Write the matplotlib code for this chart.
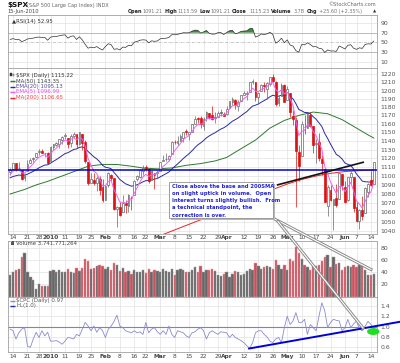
import numpy as np
import matplotlib
matplotlib.use("Agg")
import matplotlib.pyplot as plt
from matplotlib.patches import Ellipse, Rectangle
from matplotlib.ticker import NullLocator, FixedLocator, FixedFormatter
import matplotlib.patheffects as pe

# ------------------------------------------------------------------ data
# trading days 11-Dec-2009 .. 15-Jun-2010 (index -1 .. 125, 0 = 14-Dec-2009)
prev_close = 1102.35
opens = [1103.96, 1107.84, 1114.11, 1108.61, 1106.36, 1097.86, 1105.31, 1114.51, 1118.84, 1121.08, 1127.53, 1128.55, 1125.53, 1126.60,
         1116.56, 1132.66, 1135.71, 1136.27, 1140.52, 1145.96, 1143.81, 1137.31, 1145.68, 1147.72, 1136.03, 1147.95, 1138.68, 1115.49, 1092.40, 1095.80, 1091.94, 1096.93, 1087.61,
         1073.89, 1090.05, 1100.67, 1097.25, 1064.12, 1065.51, 1060.06, 1069.68, 1067.10, 1075.95, 1079.13, 1096.14, 1099.03, 1105.49, 1110.00, 1107.49, 1095.89, 1101.24, 1103.10,
         1105.36, 1117.01, 1119.36, 1119.12, 1125.12, 1138.40, 1137.56, 1140.22, 1143.96, 1151.71, 1148.53, 1150.83, 1159.94, 1166.13, 1166.68, 1157.25, 1166.47, 1172.70, 1170.03, 1167.58, 1167.71, 1173.75, 1171.75,
         1171.23, 1178.71, 1186.01, 1188.23, 1181.75, 1187.47, 1194.94, 1195.94, 1198.69, 1210.77, 1210.17, 1192.06, 1199.04, 1207.16, 1202.52, 1207.87, 1217.07, 1209.92, 1184.59, 1193.30, 1206.77,
         1188.58, 1197.50, 1169.24, 1164.38, 1127.04, 1122.27, 1156.39, 1155.43, 1170.04, 1157.19, 1136.52, 1138.78, 1119.57, 1107.34, 1067.26, 1084.78, 1067.42, 1075.51, 1074.27, 1102.59,
         1087.30, 1073.02, 1098.82, 1098.43, 1065.84, 1050.81, 1062.75, 1058.77, 1082.65, 1095.00, 1091.21]
highs = [1108.50, 1114.76, 1114.11, 1116.21, 1106.36, 1103.74, 1117.68, 1120.27, 1121.58, 1126.48, 1130.38, 1130.38, 1126.42, 1127.64,
         1133.87, 1136.63, 1139.19, 1142.46, 1145.39, 1149.74, 1143.81, 1148.40, 1150.41, 1147.77, 1150.45, 1147.95, 1141.58, 1115.49, 1102.97, 1103.69, 1099.51, 1100.22, 1096.45,
         1089.38, 1104.73, 1102.72, 1097.25, 1067.13, 1071.20, 1079.28, 1073.67, 1080.04, 1077.81, 1095.67, 1101.03, 1108.24, 1112.42, 1112.29, 1108.58, 1106.42, 1103.50, 1107.24,
         1116.11, 1123.46, 1125.64, 1123.73, 1139.38, 1141.05, 1145.37, 1148.26, 1150.24, 1153.41, 1150.98, 1160.28, 1169.84, 1167.77, 1169.20, 1167.82, 1174.72, 1173.04, 1180.69, 1173.93, 1174.85, 1177.83, 1174.56,
         1181.43, 1187.73, 1191.80, 1189.60, 1188.55, 1194.66, 1199.20, 1199.04, 1210.65, 1213.92, 1210.17, 1197.87, 1208.58, 1210.99, 1210.27, 1217.28, 1219.80, 1211.38, 1195.05, 1209.36, 1207.99,
         1205.13, 1197.50, 1175.95, 1167.58, 1135.13, 1163.85, 1170.48, 1172.87, 1173.57, 1157.19, 1141.88, 1148.66, 1124.27, 1107.34, 1090.16, 1089.95, 1074.75, 1090.75, 1103.52, 1102.59,
         1094.77, 1098.56, 1105.67, 1098.43, 1071.36, 1063.15, 1077.74, 1087.85, 1092.25, 1105.87, 1115.59]
lows = [1101.34, 1107.84, 1105.35, 1107.96, 1095.88, 1093.88, 1105.31, 1114.51, 1116.00, 1121.08, 1123.51, 1126.08, 1121.94, 1114.81,
        1116.56, 1129.66, 1133.95, 1131.32, 1136.22, 1142.02, 1131.77, 1133.18, 1143.80, 1131.39, 1135.77, 1129.25, 1114.84, 1090.18, 1092.40, 1089.86, 1083.11, 1078.46, 1071.59,
        1073.89, 1087.96, 1093.97, 1062.78, 1044.50, 1056.51, 1060.06, 1059.34, 1060.59, 1062.97, 1079.13, 1094.72, 1097.48, 1100.80, 1105.38, 1092.18, 1095.50, 1086.02, 1097.56,
        1105.36, 1116.51, 1116.58, 1116.66, 1125.12, 1136.77, 1134.90, 1140.09, 1138.99, 1146.97, 1141.45, 1150.35, 1159.94, 1161.16, 1155.33, 1152.88, 1163.83, 1166.01, 1165.09, 1161.48, 1167.71, 1168.92, 1169.15,
        1170.69, 1178.71, 1182.77, 1177.25, 1175.12, 1187.15, 1194.71, 1188.82, 1198.69, 1208.50, 1186.77, 1183.68, 1199.04, 1198.85, 1190.19, 1205.10, 1211.07, 1181.62, 1181.81, 1193.30, 1186.32,
        1188.58, 1168.12, 1158.15, 1065.79, 1094.15, 1122.27, 1147.71, 1155.43, 1156.14, 1126.14, 1114.96, 1117.20, 1100.66, 1071.58, 1055.90, 1072.70, 1040.78, 1065.59, 1074.27, 1084.78,
        1069.89, 1072.03, 1091.81, 1060.50, 1049.86, 1042.17, 1052.25, 1058.77, 1077.12, 1089.03, 1091.21]
closes = [1106.41, 1114.11, 1107.93, 1109.18, 1096.08, 1102.47, 1114.05, 1118.02, 1120.59, 1126.48, 1127.78, 1126.20, 1126.42, 1115.10,
          1132.99, 1136.52, 1137.14, 1141.69, 1144.98, 1146.98, 1136.22, 1145.68, 1148.46, 1136.03, 1150.23, 1138.04, 1116.48, 1091.76, 1096.78, 1092.17, 1097.50, 1084.53, 1073.87,
          1089.19, 1103.32, 1097.28, 1063.11, 1066.19, 1056.74, 1070.52, 1068.13, 1078.47, 1075.51, 1094.87, 1099.51, 1106.75, 1109.17, 1108.01, 1094.60, 1105.24, 1102.94, 1104.49,
          1115.71, 1118.31, 1118.79, 1122.97, 1138.70, 1138.50, 1140.45, 1145.61, 1150.24, 1149.99, 1150.51, 1159.46, 1166.21, 1165.83, 1159.90, 1165.81, 1174.17, 1167.72, 1165.73, 1166.59, 1173.22, 1173.27, 1169.43,
          1178.10, 1187.44, 1189.44, 1182.45, 1186.44, 1194.37, 1196.48, 1197.30, 1210.65, 1211.67, 1192.13, 1197.52, 1207.17, 1205.94, 1208.67, 1217.28, 1212.05, 1183.71, 1191.36, 1206.78, 1186.69,
          1202.26, 1173.60, 1165.90, 1128.15, 1110.88, 1159.73, 1155.79, 1171.67, 1157.44, 1135.68, 1136.94, 1120.80, 1115.05, 1071.59, 1087.69, 1073.65, 1074.03, 1067.95, 1103.06, 1089.41,
          1070.71, 1098.38, 1102.83, 1064.88, 1050.47, 1062.00, 1055.69, 1086.84, 1091.60, 1089.63, 1115.23]
volumes = [36, 40, 44, 46, 65, 72, 40, 33, 28, 12, 20, 18, 18, 18,
           42, 43, 40, 44, 40, 40, 45, 40, 39, 47, 42, 47, 62, 58, 45, 47, 50, 52, 50,
           46, 48, 44, 55, 52, 42, 47, 40, 42, 38, 44, 40, 41, 44, 39, 45, 40, 44, 42,
           40, 45, 42, 40, 46, 36, 44, 46, 43, 40, 40, 44, 48, 40, 50, 40, 44, 43, 46, 42, 36, 34, 38,
           40, 32, 38, 42, 40, 36, 38, 42, 46, 44, 56, 50, 46, 48, 50, 48, 46, 60, 52, 46, 52,
           44, 62, 58, 82, 72, 62, 52, 48, 44, 52, 50, 52, 58, 66, 68, 48, 66, 54, 56, 44,
           48, 50, 48, 52, 48, 52, 53, 44, 36, 35, 37.4]   # hundreds of millions
cpc = [0.95, 0.92, 0.76, 0.88, 0.95, 0.98, 0.62, 0.60, 0.76, 0.89, 0.79, 0.92, 0.82, 0.89,
       0.72, 0.72, 0.73, 0.70, 0.66, 0.72, 0.79, 0.78, 0.76, 0.85, 0.82, 0.95, 1.08, 1.01, 0.92, 1.01, 0.89, 0.98, 0.92,
       0.79, 0.95, 1.01, 1.10, 1.22, 1.01, 0.98, 0.92, 0.90, 0.88, 0.92, 0.88, 0.90, 0.85, 1.08, 0.88, 0.95, 0.98, 0.90,
       0.85, 0.92, 0.85, 1.01, 0.85, 0.79, 0.92, 0.90, 0.88, 0.82, 0.79, 0.88, 0.90, 0.95, 0.98, 0.92, 0.76, 0.88, 0.92, 0.88, 0.85, 0.90, 0.89,
       0.88, 0.79, 0.85, 0.79, 0.76, 0.73, 0.69, 0.63, 0.58, 0.69, 0.88, 0.92, 0.92, 0.85, 0.80, 0.72, 0.69, 0.76, 0.79, 0.69, 0.98,
       1.20, 1.04, 1.11, 1.27, 1.08, 1.08, 1.14, 0.85, 1.04, 0.98, 0.92, 1.20, 1.46, 1.30, 0.98, 1.08, 1.14, 1.12, 1.11, 0.92,
       0.98, 1.14, 0.98, 1.05, 1.11, 0.96, 0.92, 1.01, 1.10, 1.04, 0.97]
ma50_idx = [-1, 4, 8, 12, 17, 22, 26, 31, 36, 41, 45, 50, 55, 60, 65, 70, 74, 79, 84, 89, 94, 99, 104, 109, 114, 118, 123, 125]
ma50_val = [1080, 1085, 1090, 1094, 1100, 1106, 1111, 1113, 1113, 1111, 1109, 1108, 1109, 1112, 1114, 1117, 1121, 1131, 1141,
            1155, 1164, 1170, 1174, 1172, 1165, 1157, 1147, 1143.35]
ma200_idx = [50, 55, 60, 65, 70, 75, 80, 85, 90, 95, 100, 105, 110, 115, 120, 125]
ma200_val = [1034, 1040, 1046, 1052, 1058.5, 1065, 1072, 1078.5, 1085, 1091, 1096, 1100, 1103, 1105, 1106, 1106.65]
ema20_seed, ema5_seed = 1097.0, 1099.0
rsi_gain_seed, rsi_loss_seed = 8.0, 6.5
tick_idx = [0, 5, 9, 13, 18, 23, 27, 32, 37, 42, 46, 51, 56, 61, 66, 71, 74, 80, 85, 90, 95, 100, 105, 110, 115, 119, 124]
tick_lab = ['14', '21', '28', '2010', '11', '19', '25', 'Feb', '8', '16', '22', 'Mar', '8', '15', '22', '29',
            'Apr', '12', '19', '26', 'May', '10', '17', '24', 'Jun', '7', '14']
bold_labels = {'2010', 'Feb', 'Mar', 'Apr', 'May', 'Jun'}
price_ticks = list(range(1040, 1230, 10))
vol_ticks = [20, 40, 60, 80]
cpc_ticks = [0.6, 0.8, 1.0, 1.2, 1.4]
rsi_ticks = [10, 30, 50, 70, 90]
hline_level = 1106.2

# ------------------------------------------------------------------ indicators
def ema(vals, n, seed):
    a = 2.0 / (n + 1)
    e, out = seed, []
    for v in vals:
        e = e + a * (v - e)
        out.append(e)
    return np.array(out)

def rsi(vals, prev, g, l, n=14):
    out, p = [], prev
    for c in vals:
        d = c - p
        g = (g * (n - 1) + max(d, 0)) / n
        l = (l * (n - 1) + max(-d, 0)) / n
        out.append(100 - 100 / (1 + g / l))
        p = c
    return np.array(out)

o = np.array(opens); h = np.array(highs); lo = np.array(lows); c = np.array(closes)
n = len(c)
x = np.arange(-1, n - 1)
pc = np.concatenate([[prev_close], c[:-1]])
up = c >= pc
ema20 = ema(c, 20, ema20_seed)
ema5 = ema(c, 5, ema5_seed)
rsi14 = rsi(c, prev_close, rsi_gain_seed, rsi_loss_seed)

# ------------------------------------------------------------------ figure
W, H = 400, 363
fig = plt.figure(figsize=(W / 100, H / 100), dpi=100)
fig.patch.set_facecolor('white')
XL, XR = 8, 377
xlim = (-1.75, 126.1)

def ax_at(top, bottom):
    return fig.add_axes([XL / W, 1 - bottom / H, (XR - XL) / W, (bottom - top) / H])

ax_r = ax_at(15, 68)
ax_p = ax_at(68, 233.5)
ax_v = ax_at(241, 296.5)
ax_c = ax_at(296.5, 352)
GRID = '#e2e2e2'
for ax in (ax_r, ax_p, ax_v, ax_c):
    ax.set_xlim(*xlim)
    ax.set_facecolor('white')
    for s in ax.spines.values():
        s.set_color('#a0a0a0'); s.set_linewidth(0.6)
    ax.yaxis.tick_right()
    ax.tick_params(axis='y', length=0, labelsize=4.4, pad=2.5, colors='#555555')
    ax.tick_params(axis='x', length=0, labelsize=4.2, pad=1.2, colors='#444444')
    ax.set_xticks(tick_idx)
    ax.grid(True, color=GRID, lw=0.5, zorder=0)
    ax.set_axisbelow(True)
for ax in (ax_r, ax_v):
    ax.set_xticklabels([])
for ax in (ax_p, ax_c):
    ax.set_xticklabels(tick_lab)
    for t in ax.get_xticklabels():
        if t.get_text() in bold_labels:
            t.set_fontweight('bold')

# ---- RSI
ax_r.set_ylim(-2, 106)
ax_r.set_yticks(rsi_ticks)
ax_r.set_yticklabels([str(t) for t in rsi_ticks])
ax_r.grid(False, axis='y')
for lv in (10, 90):
    ax_r.axhline(lv, color=GRID, lw=0.5, zorder=0)
for lv in (30, 70):
    ax_r.axhline(lv, color='#b0b0b0', lw=0.6, zorder=1)
ax_r.axhline(50, color='#b0b0b0', lw=0.5, ls=(0, (4, 1.5, 1, 1.5)), zorder=1)
ax_r.fill_between(x, rsi14, 70, where=rsi14 > 70, interpolate=True, color='#3d8a3d', lw=0, zorder=2)
ax_r.fill_between(x, rsi14, 30, where=rsi14 < 30, interpolate=True, color='#6a6ad0', lw=0, zorder=2)
ax_r.plot(x, rsi14, color='#303030', lw=0.5, zorder=3)
ax_r.text(0.012, 0.93, '\u25b2RSI(14) %.2f' % rsi14[-1], transform=ax_r.transAxes, fontsize=3.9,
          color='#333333', va='top', ha='left')

# ---- price
ax_p.set_yscale('log')
ax_p.set_ylim(1037.4, 1227.9)
ax_p.yaxis.set_major_locator(FixedLocator(price_ticks))
ax_p.yaxis.set_major_formatter(FixedFormatter([str(t) for t in price_ticks]))
ax_p.yaxis.set_minor_locator(NullLocator())
ax_p.axhline(hline_level, color='#0000cc', lw=1.1, zorder=6)
ax_p.plot(ma50_idx, ma50_val, color='#2d7a2d', lw=0.7, zorder=3)
ax_p.plot(x, ema20, color='#2a2aa0', lw=0.7, zorder=3)
ax_p.plot(ma200_idx, ma200_val, color='#ee2222', lw=0.7, zorder=3)
ax_p.plot(x, ema5, color='#f060f0', lw=0.7, zorder=5)
for i in range(n):
    col = '#666666' if up[i] else '#dd1111'
    filled = c[i] < o[i]
    ax_p.vlines(x[i], lo[i], h[i], color=col, lw=0.5, zorder=4)
    b0, b1 = min(o[i], c[i]), max(o[i], c[i])
    if b1 - b0 < 0.6:
        b1 = b0 + 0.6
    ax_p.bar(x[i], b1 - b0, bottom=b0, width=0.62, color=(col if filled else 'white'),
             edgecolor=col, lw=0.5, zorder=4.5)

# ---- volume
ax_v.set_ylim(0, 91.7)
ax_v.set_yticks(vol_ticks)
ax_v.set_yticklabels([str(t) for t in vol_ticks])
vcol = np.where(up, '#666666', '#c9505e')
vedge = np.where(up, '#9a9a9a', '#eaa0a8')
ax_v.bar(x, volumes, width=0.8, color=vcol, edgecolor=vedge, lw=0.35, zorder=2)

# ---- CPC
ax_c.set_ylim(0.51, 1.58)
ax_c.set_yticks(cpc_ticks)
ax_c.set_yticklabels(['%.1f' % t for t in cpc_ticks])
ax_c.axhline(1.0, color='#8080c0', lw=0.8, zorder=2)
ax_c.plot(x, cpc, color='#8a8ad0', lw=0.6, zorder=3)

# ------------------------------------------------------------------ overlay (annotations, legends, header)
ov = fig.add_axes([0, 0, 1, 1], zorder=10)
ov.set_xlim(0, W); ov.set_ylim(H, 0); ov.axis('off')
ov.patch.set_alpha(0)

def leg_line(xp, yp, color, text, tcolor):
    ov.plot([xp, xp + 5], [yp, yp], color=color, lw=1.0, solid_capstyle='butt')
    ov.text(xp + 6.5, yp, text, fontsize=3.9, color=tcolor, va='center', ha='left')

# price legend
ov.add_patch(Rectangle((10.3, 73.2), 1.6, 3.2, fc='#333333', ec='#333333', lw=0.3))
ov.add_patch(Rectangle((12.6, 73.6), 1.6, 2.8, fc='white', ec='#333333', lw=0.3))
ov.text(16.5, 75.0, '$SPX (Daily) %.2f' % 1115.22, fontsize=3.9, color='#333333', va='center')
leg_line(10, 81.0, '#2d7a2d', 'MA(50) %.2f' % ma50_val[-1], '#444444')
leg_line(10, 86.5, '#2a2aa0', 'EMA(20) %.2f' % 1095.13, '#4a4aa0')
leg_line(10, 92.0, '#f060f0', 'EMA(5) %.2f' % 1096.99, '#e050e0')
leg_line(10, 97.5, '#ee2222', 'MA(200) %.2f' % ma200_val[-1], '#ee4444')

# volume legend
ov.add_patch(Rectangle((10.5, 242.3), 1.5, 3.0, fc='#555555', lw=0))
ov.add_patch(Rectangle((12.3, 241.3), 1.5, 4.0, fc='#555555', lw=0))
ov.text(15.5, 243.6, 'Volume 3,741,771,264', fontsize=3.9, color='#444444', va='center')

# CPC legend
leg_line(10, 300.5, '#8a8ad0', '$CPC (Daily) %.2f' % cpc[-1], '#555555')
leg_line(10, 306.0, '#2a2aa0', 'HL(1.0)', '#555555')

# header
ov.text(7, 5.3, '$SPX', fontsize=5.2, fontweight='bold', color='#111111', va='center')
ov.text(27, 5.5, '(S&P 500 Large Cap Index) INDX', fontsize=3.6, color='#666666', va='center')
ov.text(7, 11.8, '15-Jun-2010', fontsize=3.7, color='#444444', va='center')
hdr = [(128, 'Open', True), (142.5, '1091.21', False), (164.5, 'High', True), (177.5, '1115.59', False),
       (199.5, 'Low', True), (210.5, '1091.21', False), (232, 'Close', True), (249, '1115.23', False),
       (271, 'Volume', True), (293.5, '3.7B', False), (307, 'Chg', True), (319, '+25.60 (+2.35%)', False)]
for xp, t, b in hdr:
    ov.text(xp, 11.8, t, fontsize=3.55, fontweight=('bold' if b else 'normal'),
            color=('#222222' if b else '#777777'), va='center')
ov.text(373, 11.8, '\u25b2', fontsize=3.0, color='#333333', va='center')
ov.text(376, 4.5, '\u00a9StockCharts.com', fontsize=3.6, color='#666666', va='center', ha='right')

# trend lines
stroke = [pe.Stroke(linewidth=2.2, foreground='#8a8a8a'), pe.Normal()]
ov.plot([275.5, 371], [219.5, 269.5], color='white', lw=0.8, path_effects=stroke, zorder=11)
ov.plot([278, 363], [221.5, 328], color='white', lw=0.8, path_effects=stroke, zorder=11)
ax_p.plot([91.4, 121.6], [1089.9, 1115.7], color='#111111', lw=1.2, zorder=7, solid_capstyle='butt')
ax_c.plot([81.8, 134.0], [0.577, 1.092], color='#0000dd', lw=1.4, zorder=6, clip_on=False)
ax_c.add_patch(Ellipse((124.8, 0.905), 4.3, 0.135, fc='#22dd22', ec='none', zorder=7, clip_on=False))

# callout box
ov.add_patch(Rectangle((170.5, 183.5), 104, 36, fc='#b8b8b8', ec='none', zorder=12))
ov.add_patch(Rectangle((169, 182), 104, 36, fc='white', ec='#909090', lw=0.6, zorder=13))
call = ['Close above the base and 200SMA',
        'on slight uptick in volume.  Open',
        'interest turns slightly bullish.  From',
        'a technical standpoint, the',
        'correction is over.']
for k, line in enumerate(call):
    ov.text(171.5, 186.3 + k * 7.2, line, fontsize=3.75, fontweight='bold', color='#2323d8',
            va='center', ha='left', zorder=14)

fig.savefig('out.png', dpi=100, facecolor='white')
